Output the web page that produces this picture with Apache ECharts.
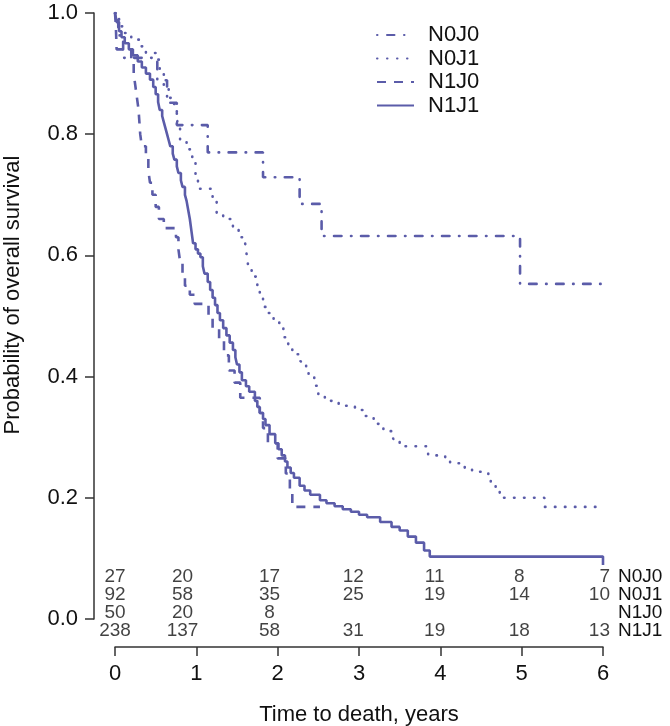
<!DOCTYPE html>
<html>
<head>
<meta charset="utf-8">
<script src="https://cdn.jsdelivr.net/npm/echarts@6/dist/echarts.min.js"></script>
<style>html,body{margin:0;padding:0;background:#fff}#c{width:670px;height:726px}</style>
</head>
<body>
<div id="c"></div>
<script>
// Kaplan-Meier step points [time (years), survival]
const N0J0 = [[0,1],[0.04,0.963],[0.1,0.926],[0.52,0.889],[0.64,0.852],[0.76,0.815],[1.14,0.77],[1.82,0.729],[2.27,0.685],[2.54,0.632],[4.98,0.553],[6.0,0.553]];
const N0J1 = [[0,1],[0.05,0.978],[0.12,0.967],[0.2,0.956],[0.3,0.945],[0.38,0.934],[0.5,0.923],[0.55,0.9],[0.6,0.88],[0.66,0.86],[0.72,0.85],[0.76,0.835],[0.77,0.81],[0.8,0.79],[0.88,0.775],[0.95,0.755],[0.99,0.73],[1.02,0.71],[1.2,0.69],[1.25,0.67],[1.33,0.66],[1.45,0.645],[1.52,0.63],[1.6,0.62],[1.62,0.6],[1.64,0.58],[1.68,0.565],[1.75,0.545],[1.78,0.53],[1.82,0.515],[1.86,0.505],[1.95,0.49],[2.02,0.48],[2.07,0.465],[2.13,0.45],[2.18,0.437],[2.28,0.425],[2.35,0.412],[2.38,0.4],[2.45,0.385],[2.5,0.37],[2.58,0.36],[2.75,0.352],[2.95,0.345],[3.08,0.335],[3.18,0.322],[3.3,0.31],[3.42,0.297],[3.5,0.285],[3.85,0.27],[4.06,0.262],[4.12,0.257],[4.3,0.249],[4.39,0.243],[4.59,0.237],[4.62,0.224],[4.68,0.212],[4.73,0.2],[5.28,0.185],[5.95,0.185]];
const N1J0 = [[0,1],[0.01,0.98],[0.015,0.96],[0.02,0.94],[0.2,0.92],[0.23,0.9],[0.25,0.88],[0.27,0.86],[0.29,0.84],[0.3,0.82],[0.31,0.8],[0.33,0.78],[0.38,0.76],[0.41,0.74],[0.43,0.72],[0.46,0.7],[0.5,0.68],[0.54,0.66],[0.6,0.645],[0.75,0.63],[0.78,0.61],[0.8,0.59],[0.83,0.57],[0.86,0.55],[0.92,0.535],[0.98,0.52],[1.15,0.5],[1.2,0.48],[1.28,0.46],[1.34,0.435],[1.4,0.41],[1.47,0.39],[1.54,0.365],[1.78,0.34],[1.82,0.315],[1.88,0.29],[2.0,0.265],[2.1,0.24],[2.15,0.215],[2.18,0.185],[2.52,0.185]];
const N1J1 = [[0,1],[0.02,0.985],[0.05,0.97],[0.08,0.96],[0.12,0.95],[0.17,0.94],[0.22,0.93],[0.28,0.92],[0.33,0.91],[0.38,0.9],[0.43,0.89],[0.47,0.878],[0.5,0.866],[0.53,0.853],[0.55,0.84],[0.58,0.83],[0.6,0.82],[0.62,0.81],[0.64,0.8],[0.66,0.79],[0.68,0.78],[0.71,0.768],[0.73,0.758],[0.76,0.747],[0.78,0.736],[0.81,0.724],[0.83,0.713],[0.86,0.7],[0.88,0.69],[0.9,0.675],[0.92,0.66],[0.94,0.64],[0.96,0.62],[0.99,0.61],[1.02,0.603],[1.05,0.597],[1.08,0.582],[1.1,0.57],[1.14,0.556],[1.17,0.543],[1.2,0.53],[1.23,0.518],[1.26,0.505],[1.29,0.493],[1.33,0.48],[1.37,0.468],[1.41,0.456],[1.45,0.444],[1.48,0.432],[1.5,0.42],[1.53,0.407],[1.56,0.394],[1.61,0.384],[1.65,0.375],[1.72,0.36],[1.75,0.35],[1.78,0.34],[1.82,0.33],[1.85,0.32],[1.9,0.305],[1.97,0.29],[2.01,0.28],[2.05,0.27],[2.09,0.26],[2.12,0.25],[2.16,0.241],[2.2,0.233],[2.27,0.22],[2.33,0.212],[2.4,0.205],[2.52,0.196],[2.6,0.191],[2.7,0.186],[2.8,0.181],[2.9,0.177],[3.0,0.172],[3.1,0.168],[3.26,0.16],[3.4,0.152],[3.5,0.146],[3.6,0.136],[3.7,0.126],[3.8,0.113],[3.87,0.103],[5.97,0.103],[6.0,0.089]];

// Number at risk table
const riskGroups = ['N0J0','N0J1','N1J0','N1J1'];
const riskTimes = [0, 0.83, 1.9, 2.93, 3.93, 4.97, 6];
const riskN0J0 = [27, 20, 17, 12, 11, 8, 7];
const riskN0J1 = [92, 58, 35, 25, 19, 14, 10];
const riskN1J0 = [50, 20, 8, null, null, null, null];
const riskN1J1 = [238, 137, 58, 31, 19, 18, 13];

const xTicks = [0,1,2,3,4,5,6];
const yTicks = [0,0.2,0.4,0.6,0.8,1.0];

const COLOR = '#5b5ca9';
const TXT = '#111';
const FONT = 'Liberation Sans, Arial, Helvetica, sans-serif';

const chart = echarts.init(document.getElementById('c'), null, {renderer:'canvas'});

const riskRows = [riskN0J0, riskN0J1, riskN1J0, riskN1J1];
const riskData = [];
riskRows.forEach((row, r) => {
  row.forEach((v, i) => {
    if (v === null) return;
    const item = {value:[riskTimes[i], riskGroups[r], v]};
    if (i === row.length - 1) item.label = {align:'right', offset:[7,0]};
    riskData.push(item);
  });
});

function km(name, data, type, cap) {
  return {
    name, type:'line', step:'end', data, xAxisIndex:0, yAxisIndex:0,
    symbol:'none', showSymbol:false, animation:false,
    lineStyle:{color:COLOR, width:2.6, type:type, cap:cap || 'butt'},
    itemStyle:{color:COLOR}
  };
}

chart.setOption({
  animation:false,
  textStyle:{fontFamily:FONT},
  grid:[
    {left:115, right:67, top:13, bottom:107, outerBoundsMode:'none', containLabel:false},
    {left:115, right:67, top:568, height:72, outerBoundsMode:'none', containLabel:false}
  ],
  legend:{
    orient:'vertical', left:376, top:24, padding:0,
    itemWidth:37, itemHeight:14, itemGap:1.5,
    itemStyle:{opacity:0},
    textStyle:{fontSize:22, color:TXT, fontFamily:FONT, lineHeight:21, padding:[0,0,0,9]},
    data:['N0J0','N0J1','N1J0','N1J1']
  },
  xAxis:[
    {type:'value', gridIndex:0, min:0, max:6, interval:1, offset:28,
     axisLine:{show:true, onZero:false, lineStyle:{color:'#333', width:1.5}},
     axisTick:{show:true, length:9, lineStyle:{color:'#333', width:1.5}},
     axisLabel:{fontSize:22, color:TXT, margin:16, fontFamily:FONT},
     splitLine:{show:false},
     name:'Time to death, years', nameLocation:'middle', nameGap:57,
     nameTextStyle:{fontSize:22, color:TXT, fontFamily:FONT}},
    {type:'value', gridIndex:1, min:0, max:6, show:false}
  ],
  yAxis:[
    {type:'value', gridIndex:0, min:0, max:1, interval:0.2, offset:21,
     axisLine:{show:true, onZero:false, lineStyle:{color:'#333', width:1.5}},
     axisTick:{show:true, length:9, lineStyle:{color:'#333', width:1.5}},
     axisLabel:{fontSize:22, color:TXT, margin:16, fontFamily:FONT, formatter:v=>v.toFixed(1)},
     splitLine:{show:false},
     name:'Probability of overall survival', nameLocation:'middle', nameGap:70,
     nameTextStyle:{fontSize:22, color:TXT, fontFamily:FONT, padding:[0,0,0,42]}},
    {type:'category', gridIndex:1, data:riskGroups.slice().reverse(), position:'right',
     axisLine:{show:false}, axisTick:{show:false},
     axisLabel:{show:true, interval:0, fontSize:19, color:TXT, margin:15, align:'left', fontFamily:FONT}}
  ],
  series:[
    km('N0J0', N0J0, [0.5,9.5,7.5,9.5], 'round'),
    km('N0J1', N0J1, [0.5,9.5], 'round'),
    km('N1J0', N1J0, [9,8]),
    km('N1J1', N1J1, 'solid'),
    {type:'scatter', xAxisIndex:1, yAxisIndex:1, data:riskData, symbolSize:0, silent:true,
     label:{show:true, position:'inside', fontSize:19, color:TXT, fontFamily:FONT,
       formatter:p=>String(p.value[2])}}
  ]
});
</script>
</body>
</html>
